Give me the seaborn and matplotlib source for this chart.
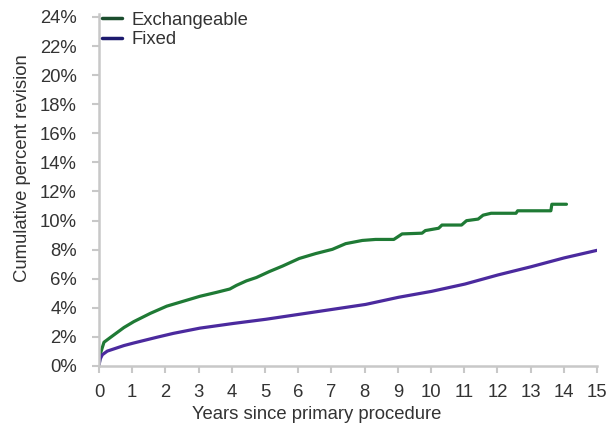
import matplotlib
matplotlib.use("Agg")
import matplotlib.pyplot as plt
import seaborn as sns
import pandas as pd

# Datos (años, % acumulado de revisión)
exch_years = [0, 0.05, 0.15, 0.35, 0.75, 1.05, 1.55, 2.04, 2.54, 3.04, 3.54, 3.94, 4.14,
              4.44, 4.74, 5.13, 5.53, 6.03, 6.53, 7.03, 7.43, 7.93, 8.33, 8.88, 9.13,
              9.73, 9.83, 10.23, 10.33, 10.92, 11.07, 11.42, 11.57, 11.81, 12.56, 12.61,
              13.61, 13.64, 14.08]
exch_pct = [0, 0.9, 1.63, 1.97, 2.64, 3.05, 3.62, 4.11, 4.45, 4.79, 5.06, 5.29, 5.54,
            5.85, 6.08, 6.49, 6.87, 7.39, 7.73, 8.02, 8.41, 8.63, 8.70, 8.70, 9.08,
            9.13, 9.31, 9.47, 9.69, 9.69, 9.99, 10.1, 10.37, 10.5, 10.5, 10.67,
            10.67, 11.12, 11.12]

fixed_years = [0, 0.03, 0.1, 0.25, 0.75, 1.05, 1.74, 2.24, 3.04, 4.04, 5.03, 6.03, 7.03,
               8.03, 9.02, 10.02, 11.02, 12.02, 13.01, 14.01, 15.0]
fixed_pct = [0, 0.45, 0.77, 1.02, 1.4, 1.58, 1.97, 2.24, 2.6, 2.92, 3.21, 3.55, 3.89,
             4.23, 4.72, 5.13, 5.63, 6.26, 6.82, 7.43, 7.95]

y_ticks = list(range(0, 25, 2))
x_ticks = list(range(0, 16))

df = pd.concat([
    pd.DataFrame({"Years": exch_years, "Pct": exch_pct, "Group": "Exchangeable"}),
    pd.DataFrame({"Years": fixed_years, "Pct": fixed_pct, "Group": "Fixed"}),
])

sns.set_style("white")
plt.rcParams["font.family"] = ["Liberation Sans", "DejaVu Sans"]

fig = plt.figure(figsize=(6.08, 4.26), dpi=100)
ax = fig.add_axes([99 / 608, 0.141, 498 / 608, 0.826])

colores = {"Exchangeable": "#1f7a35", "Fixed": "#4b2a9e"}
sns.lineplot(data=df, x="Years", y="Pct", hue="Group", palette=colores,
             estimator=None, sort=False, linewidth=2.3, ax=ax)

ax.set_xlim(0, 15)
ax.set_ylim(0, 24.2)
ax.set_xticks(x_ticks)
ax.set_yticks(y_ticks)
ax.set_yticklabels([f"{v}%" for v in y_ticks])

for lado in ["top", "right"]:
    ax.spines[lado].set_visible(False)
for lado in ["left", "bottom"]:
    ax.spines[lado].set_color("#c8c8c8")
    ax.spines[lado].set_linewidth(1.8)

fs = 13.3
ax.tick_params(axis="both", colors="#c8c8c8", labelcolor="#333333",
               labelsize=fs, length=5, width=1.5, direction="out",
               bottom=True, left=True)
ax.tick_params(axis="x", pad=8)
ax.tick_params(axis="y", pad=11)

ax.set_xlabel("Years since primary procedure", fontsize=fs, color="#333333")
ax.xaxis.set_label_coords(0.437, -0.113)
ax.set_ylabel("Cumulative percent revision", fontsize=fs, color="#333333")
ax.yaxis.set_label_coords(-0.137, 0.5625)

leg = ax.legend(loc="upper left", frameon=False, fontsize=fs, handlelength=1.08,
                handletextpad=0.54, borderaxespad=0.0, borderpad=0.0,
                labelspacing=0.15, bbox_to_anchor=(0.006, 1.007))
for t in leg.get_texts():
    t.set_color("#333333")
for h, c in zip(leg.get_lines(), ["#1b4d2e", "#1c1a6e"]):
    h.set_color(c)
    h.set_linewidth(2.5)

fig.savefig("out.png", dpi=100)
